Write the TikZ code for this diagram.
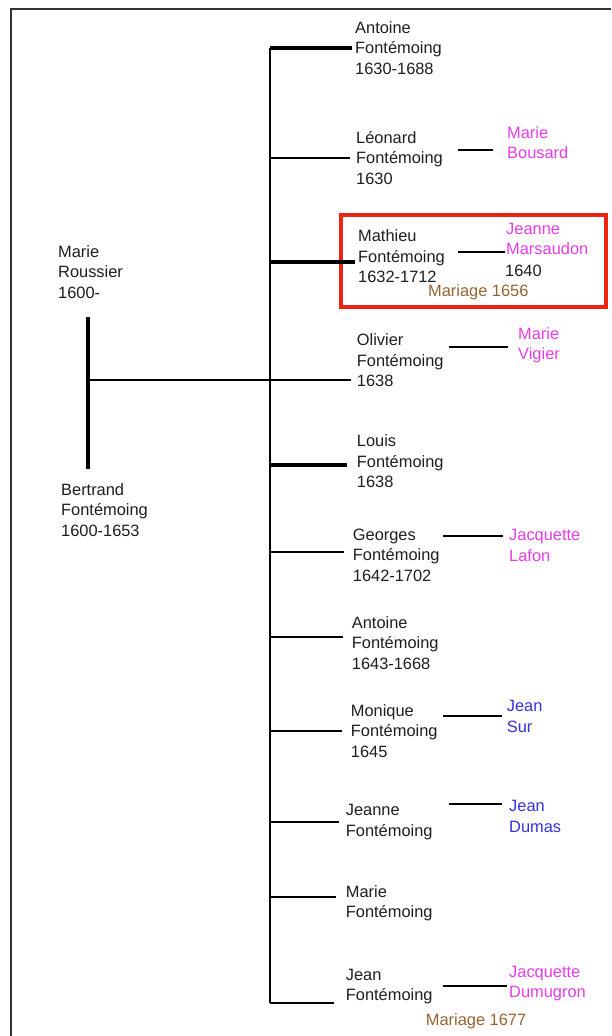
\documentclass[tikz,border=0pt]{standalone}
\usepackage{fontspec}
\setmainfont{Liberation Sans}
\definecolor{magcol}{RGB}{232,60,232}
\definecolor{bluecol}{RGB}{50,50,220}
\definecolor{browncol}{RGB}{150,100,50}
\definecolor{redcol}{RGB}{238,34,17}
\definecolor{inkcol}{RGB}{30,30,30}
\begin{document}
\begin{tikzpicture}[x=1pt,y=-1pt,
  txt/.style={anchor=base west, inner sep=0pt, align=left, font=\fontsize{16.4}{20.5}\selectfont},
  blk/.style={txt, text=inkcol},
  wife/.style={txt, text=magcol},
  man/.style={txt, text=bluecol},
  wed/.style={txt, text=browncol},
  br/.style={line width=2pt, black},
  brk/.style={line width=3.2pt, black},
  thin/.style={line width=1.6pt, black},
  sp/.style={line width=2pt, black},
  redbox/.style={draw=redcol, line width=3.6pt},
  frame/.style={line width=2pt, black!80}]
\useasboundingbox (0,0) rectangle (611,1036);
% frame
\draw[frame] (11,1036) -- (11,9) -- (611,9);
% parents (y = baseline of last line)
\node[blk] (mr) at (58,298) {Marie\\Roussier\\1600-};
\node[blk] (bf) at (61,536) {Bertrand\\Fontémoing\\1600-1653};
\coordinate (pv1) at (88,317);
\coordinate (pv2) at (88,469);
\coordinate (pm) at (88,380);
\draw[brk] (pv1) -- (pv2);
% children
\node[blk] (c1) at (355,74) {Antoine\\Fontémoing\\1630-1688};
\node[blk] (c2) at (356,184) {Léonard\\Fontémoing\\1630};
\node[blk] (c3) at (358,282.7) {Mathieu\\Fontémoing\\1632-1712};
\node[blk] (c4) at (356.7,386.7) {Olivier\\Fontémoing\\1638};
\node[blk] (c5) at (356.7,487.7) {Louis\\Fontémoing\\1638};
\node[blk] (c6) at (352.7,581) {Georges\\Fontémoing\\1642-1702};
\node[blk] (c7) at (351.7,669) {Antoine\\Fontémoing\\1643-1668};
\node[blk] (c8) at (350.7,757) {Monique\\Fontémoing\\1645};
\node[blk] (c9) at (345.7,836.2) {Jeanne\\Fontémoing};
\node[blk] (c10) at (345.7,917.8) {Marie\\Fontémoing};
\node[blk] (c11) at (345.7,1000.5) {Jean\\Fontémoing};
% spouses
\node[wife] (s2) at (507,158.5) {Marie\\Bousard};
\node[wife] (s3) at (506,254.5) {Jeanne\\Marsaudon};
\node[blk] (y3) at (505,276) {1640};
\node[wed] (m3) at (428,296.7) {Mariage 1656};
\node[wife] (s4) at (518,359.5) {Marie\\Vigier};
\node[wife] (s6) at (509,561.2) {Jacquette\\Lafon};
\node[man] (s8) at (506.7,732.2) {Jean\\Sur};
\node[man] (s9) at (509,832.2) {Jean\\Dumas};
\node[wife] (s11) at (509,997.8) {Jacquette\\Dumugron};
\node[wed] (m11) at (425.7,1025) {Mariage 1677};
% highlight box
\draw[redbox] (341,215) rectangle (606,307);
% trunk
\coordinate (t1) at (270,48);
\coordinate (t2) at (270,158);
\coordinate (t3) at (270,262);
\coordinate (t4) at (270,380);
\coordinate (t5) at (270,465);
\coordinate (t6) at (270,552);
\coordinate (t7) at (270,637);
\coordinate (t8) at (270,731);
\coordinate (t9) at (270,822);
\coordinate (t10) at (270,897);
\coordinate (t11) at (270,1003);
\draw[line width=2.5pt, black] (t1) -- (t11);
% branches
\draw[brk] (t1) -- ([xshift=-3pt]c1.west |- t1);
\draw[br] (t2) -- ([xshift=-6pt]c2.west |- t2);
\draw[brk] (t3) -- ([xshift=-3pt]c3.west |- t3);
\draw[thin] (pm) -- ([xshift=-6pt]c4.west |- pm);
\draw[brk] (t5) -- ([xshift=-10pt]c5.west |- t5);
\draw[br] (t6) -- ([xshift=-9pt]c6.west |- t6);
\draw[br] (t7) -- ([xshift=-9pt]c7.west |- t7);
\draw[br] (t8) -- ([xshift=-9pt]c8.west |- t8);
\draw[br] (t9) -- ([xshift=-7pt]c9.west |- t9);
\draw[br] (t10) -- ([xshift=-10pt]c10.west |- t10);
\draw[br] (t11) -- ([xshift=-12pt]c11.west |- t11);
% spouse links
\coordinate (a2) at (458,150);
\coordinate (a3) at (458,251.7);
\coordinate (a4) at (449,346.7);
\coordinate (a6) at (443,535.7);
\coordinate (a8) at (443,715.7);
\coordinate (a9) at (449,804);
\coordinate (a11) at (443,985.7);
\draw[sp] (a2) -- ([xshift=-14pt]s2.west |- a2);
\draw[sp] (a3) -- ([xshift=-1pt]s3.west |- a3);
\draw[sp] (a4) -- ([xshift=-10pt]s4.west |- a4);
\draw[sp] (a6) -- ([xshift=-6pt]s6.west |- a6);
\draw[sp] (a8) -- ([xshift=-5pt]s8.west |- a8);
\draw[sp] (a9) -- ([xshift=-7pt]s9.west |- a9);
\draw[sp] (a11) -- ([xshift=-2pt]s11.west |- a11);
\end{tikzpicture}
\end{document}
